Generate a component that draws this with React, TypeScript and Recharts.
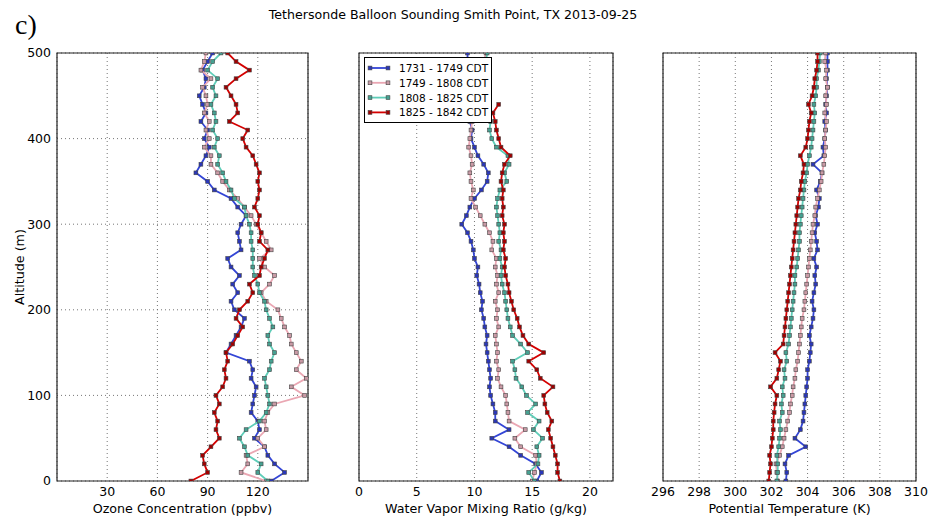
import React from 'react';
import { ScatterChart, Scatter, XAxis, YAxis, CartesianGrid, ReferenceArea, Legend } from 'recharts';

// altitude levels (m) shared by every profile
const altitudes = [
  0, 10, 20, 30, 40, 50, 60, 70, 80, 90, 100, 110, 120, 130, 140, 150, 160, 170, 180, 190, 200,
  210, 220, 230, 240, 250, 260, 270, 280, 290, 300, 310, 320, 330, 340, 350, 360, 370, 380, 390, 400,
  410, 420, 430, 440, 450, 460, 470, 480, 490, 500,
];
const altitudeTicks = [0, 100, 200, 300, 400, 500];

const seriesNames = ['1731 - 1749 CDT', '1749 - 1808 CDT', '1808 - 1825 CDT', '1825 - 1842 CDT'];
const lineColors = ['#3345d6', '#eaa7b3', '#5fcdb8', '#d40000'];
const markerColors = ['#2b37b8', '#c99aa5', '#46a091', '#a00000'];

// ozone (ppbv)
const ozone1731 = [128, 136, 130, 126, 124, 118, 121, 120, 116, 117, 118, 119, 116, 117, 115, 101, 104, 107, 110, 112, 106, 104, 108, 105, 109, 104, 102, 110, 109, 108, 110, 113, 108, 104, 94, 90, 83, 86, 89, 91, 88, 90, 86, 89, 87, 85, 88, 89, 87, 90, 93];
const ozone1749 = [125, 110, 114, 113, 124, 120, 125, 124, 126, 130, 148, 140, 149, 143, 146, 143, 140, 139, 136, 134, 132, 125, 122, 127, 130, 124, 121, 128, 125, 122, 119, 116, 112, 108, 103, 99, 96, 92, 92, 88, 91, 89, 91, 88, 90, 89, 87, 92, 86, 88, 89];
const ozone1808 = [126, 120, 122, 114, 112, 109, 113, 121, 125, 127, 126, 125, 124, 127, 128, 130, 127, 126, 129, 127, 125, 124, 121, 120, 118, 117, 117, 117, 116, 116, 115, 113, 112, 106, 104, 101, 99, 96, 97, 94, 96, 93, 95, 94, 92, 95, 93, 96, 90, 93, 98];
const ozone1825 = [80, 90, 88, 87, 92, 97, 95, 96, 94, 97, 95, 99, 101, 100, 102, 101, 105, 108, 111, 107, 109, 114, 117, 115, 121, 122, 124, 126, 121, 122, 120, 121, 118, 120, 121, 120, 121, 119, 117, 113, 111, 114, 103, 108, 107, 104, 101, 107, 115, 107, 102];

// water vapor mixing ratio (g/kg)
const wv1731 = [15.4, 15.8, 15.3, 14.0, 13.0, 11.5, 13.0, 11.8, 11.8, 11.6, 11.4, 11.3, 11.4, 11.3, 11.2, 11.1, 11.0, 11.1, 10.9, 10.8, 10.6, 10.7, 10.5, 10.4, 10.2, 10.3, 10.0, 9.9, 9.7, 9.4, 8.9, 9.3, 9.6, 10.0, 10.6, 11.1, 11.2, 10.8, 10.3, 10.0, 9.7, 9.8, 9.6, 9.7, 9.5, 9.6, 9.4, 9.6, 9.5, 9.4, 9.4];
const wv1749 = [15.0, 15.2, 15.4, 15.3, 14.0, 13.5, 14.4, 13.0, 12.9, 12.8, 12.7, 12.3, 12.0, 12.1, 11.9, 12.0, 11.9, 11.8, 12.1, 11.9, 12.0, 11.8, 12.1, 11.9, 12.0, 11.8, 11.9, 11.5, 11.6, 11.3, 10.9, 10.5, 10.1, 9.7, 9.9, 9.7, 9.6, 9.8, 9.7, 9.5, 9.6, 9.7, 9.8, 9.7, 9.8, 10.0, 10.2, 10.4, 10.6, 10.8, 11.0];
const wv1808 = [15.2, 14.7, 15.5, 15.6, 15.4, 15.9, 15.1, 15.6, 14.6, 15.3, 14.5, 14.1, 13.6, 13.5, 13.3, 14.6, 14.0, 13.3, 13.1, 12.9, 12.8, 12.7, 12.6, 12.4, 12.3, 12.4, 12.2, 12.3, 12.1, 12.2, 12.1, 12.0, 11.9, 12.0, 12.2, 12.8, 12.6, 13.0, 12.9, 11.9, 11.5, 11.3, 11.4, 11.2, 11.3, 11.2, 11.3, 11.1, 11.2, 11.0, 11.1];
const wv1825 = [17.4, 17.2, 17.2, 17.0, 16.8, 16.6, 16.4, 16.7, 16.3, 16.1, 16.0, 16.8, 15.7, 15.4, 14.7, 16.0, 14.7, 14.2, 13.9, 13.7, 13.4, 13.2, 13.0, 12.9, 12.7, 12.6, 12.7, 12.5, 12.6, 12.5, 12.6, 12.4, 12.5, 12.4, 12.5, 12.3, 12.4, 12.6, 13.1, 12.3, 12.1, 11.9, 11.8, 11.6, 12.1, null, null, null, null, null, null];

// potential temperature (K)
const theta1731 = [302.8, 302.85, 302.75, 302.95, 303.9, 303.3, 303.6, 303.75, 303.8, 303.85, 303.9, 303.95, 304.0, 304.0, 304.1, 304.15, 304.2, 304.1, 304.2, 304.3, 304.35, 304.25, 304.35, 304.45, 304.4, 304.5, 304.35, 304.55, 304.5, 304.4, 304.55, 304.45, 304.6, 304.65, 304.5, 304.7, 304.8, 304.3, 304.9, 304.85, 304.95, 305.0, 304.95, 305.05, 305.0, 305.05, 305.1, 305.05, 305.1, 305.1, 305.1];
const theta1749 = [302.35, 302.3, 302.25, 302.45, 302.6, 302.7, 302.8, 302.9, 303.0, 303.05, 303.15, 303.2, 303.3, 303.35, 303.45, 303.5, 303.55, 303.6, 303.65, 303.7, 303.8, 303.85, 303.9, 303.95, 304.0, 304.05, 304.1, 304.15, 304.2, 304.25, 304.3, 304.4, 304.45, 304.55, 304.65, 304.75, 304.8, 304.9, 304.95, 305.0, 304.95, 305.0, 305.05, 304.95, 305.05, 305.0, 305.1, 305.0, 305.05, 304.95, 305.0];
const theta1808 = [302.3, 302.35, 302.35, 302.3, 302.4, 302.45, 302.5, 302.45, 302.6, 302.55, 302.65, 302.6, 302.75, 302.7, 302.85, 302.8, 302.95, 303.0, 303.05, 303.1, 303.15, 303.2, 303.25, 303.3, 303.3, 303.4, 303.45, 303.5, 303.55, 303.55, 303.6, 303.65, 303.7, 303.75, 303.8, 303.85, 303.95, 304.0, 304.1, 304.2, 304.25, 304.3, 304.35, 304.4, 304.35, 304.45, 304.5, 304.5, 304.6, 304.65, 304.7];
const theta1825 = [301.85, 301.9, 301.95, 301.9, 302.0, 302.05, 302.1, 302.1, 302.15, 302.2, 302.3, 301.95, 302.3, 302.4, 302.5, 302.2, 302.65, 302.7, 302.75, 302.8, 302.85, 302.9, 302.95, 303.0, 303.05, 303.1, 303.15, 303.2, 303.25, 303.3, 303.35, 303.4, 303.45, 303.5, 303.6, 303.65, 303.75, 303.8, 303.6, 303.9, 304.0, 304.05, 304.1, 304.2, 304.05, 304.25, 304.35, 304.4, 304.5, 304.55, 304.55];

const toPoints = (values: (number | null)[]) =>
  altitudes.map((alt, i) => ({ alt, v: values[i] })).filter((p) => p.v != null);

const FONT = '"DejaVu Sans", sans-serif';

const Marker = (props: any) => {
  const { cx, cy, fill } = props;
  if (cx == null || cy == null) return null;
  return <rect x={cx - 1.9} y={cy - 1.9} width={3.8} height={3.8} fill={fill} stroke="#444" strokeWidth={0.6} />;
};

const renderLegend = () => (
  <svg width={128} height={66} style={{ display: 'block' }}>
    <rect x={0.5} y={0.5} width={127} height={65} fill="#fff" stroke="#000" strokeWidth={1} />
    {seriesNames.map((name, i) => {
      const y = 11 + i * 14.8;
      return (
        <g key={name}>
          <line x1={6} x2={24} y1={y} y2={y} stroke={lineColors[i]} strokeWidth={1.8} />
          <rect x={4.1} y={y - 1.9} width={3.8} height={3.8} fill={markerColors[i]} stroke="#444" strokeWidth={0.6} />
          <rect x={22.1} y={y - 1.9} width={3.8} height={3.8} fill={markerColors[i]} stroke="#444" strokeWidth={0.6} />
          <text x={35} y={y} dominantBaseline="central" fontSize={10.5} fontFamily={FONT} fill="#000">
            {name}
          </text>
        </g>
      );
    })}
  </svg>
);

type PanelProps = {
  left: number;
  width: number;
  marginLeft: number;
  marginRight: number;
  xDomain: [number, number];
  xTicks: number[];
  xLabel: string;
  values: (number | null)[][];
  showY?: boolean;
  legend?: boolean;
};

function Panel({ left, width, marginLeft, marginRight, xDomain, xTicks, xLabel, values, showY, legend }: PanelProps) {
  return (
    <div style={{ position: 'absolute', left, top: 0 }}>
      <ScatterChart width={width} height={520} margin={{ top: 53, right: marginRight, bottom: 0, left: marginLeft }}>
        <CartesianGrid stroke="#666" strokeDasharray="1 3" strokeWidth={0.9} />
        <XAxis
          type="number"
          dataKey="v"
          domain={xDomain}
          ticks={xTicks}
          interval={0}
          allowDataOverflow
          axisLine={false}
          tickLine={false}
          tickSize={6}
          tickMargin={0}
          height={39}
          tick={{ fill: '#000', fontSize: 12.5, fontFamily: FONT }}
          label={{ value: xLabel, position: 'insideBottom', offset: 7, fill: '#000', fontSize: 12.7, fontFamily: FONT }}
        />
        <YAxis
          type="number"
          dataKey="alt"
          domain={[0, 500]}
          ticks={altitudeTicks}
          interval={0}
          allowDataOverflow
          axisLine={false}
          tickLine={false}
          tickSize={6}
          tickMargin={0}
          width={showY ? 57 : 0}
          tick={showY ? { fill: '#000', fontSize: 12.5, fontFamily: FONT } : false}
        />
        {values.map((vals, i) => (
          <Scatter
            key={seriesNames[i]}
            name={seriesNames[i]}
            data={toPoints(vals)}
            fill={markerColors[i]}
            line={{ stroke: lineColors[i], strokeWidth: 1.8 }}
            shape={Marker}
            isAnimationActive={false}
          />
        ))}
        <ReferenceArea x1={xDomain[0]} x2={xDomain[1]} y1={0} y2={500} fill="none" stroke="#222" strokeWidth={1.2} ifOverflow="visible" />
        {legend && (
          <Legend
            layout="horizontal"
            verticalAlign="middle"
            align="center"
            content={renderLegend}
            wrapperStyle={{ left: 64, top: 57, width: 128, height: 66 }}
          />
        )}
      </ScatterChart>
    </div>
  );
}

export default function App() {
  return (
    <div style={{ position: 'absolute', left: 0, top: 0, width: 928, height: 520, background: '#fff', fontFamily: FONT }}>
      <svg width={928} height={520} style={{ position: 'absolute', left: 0, top: 0 }}>
        <text x={15} y={33.5} fontSize={28} fontFamily='"Liberation Serif", serif' fill="#000">c)</text>
        <text x={453} y={19} fontSize={12.6} fontFamily={FONT} textAnchor="middle" fill="#000">
          Tethersonde Balloon Sounding Smith Point, TX 2013-09-25
        </text>
        <text x={19} y={267} fontSize={12.7} fontFamily={FONT} textAnchor="middle" dominantBaseline="central" transform="rotate(-90 19 267)" fill="#000">
          Altitude (m)
        </text>
      </svg>
      <Panel
        left={0}
        width={310}
        marginLeft={0}
        marginRight={2}
        xDomain={[0, 150]}
        xTicks={[30, 60, 90, 120]}
        xLabel="Ozone Concentration (ppbv)"
        values={[ozone1731, ozone1749, ozone1808, ozone1825]}
        showY
      />
      <Panel
        left={300}
        width={315}
        marginLeft={59}
        marginRight={2}
        xDomain={[0, 22]}
        xTicks={[0, 5, 10, 15, 20]}
        xLabel="Water Vapor Mixing Ratio (g/kg)"
        values={[wv1731, wv1749, wv1808, wv1825]}
        legend
      />
      <Panel
        left={620}
        width={308}
        marginLeft={43}
        marginRight={12}
        xDomain={[296, 310]}
        xTicks={[296, 298, 300, 302, 304, 306, 308, 310]}
        xLabel="Potential Temperature (K)"
        values={[theta1731, theta1749, theta1808, theta1825]}
      />
    </div>
  );
}
